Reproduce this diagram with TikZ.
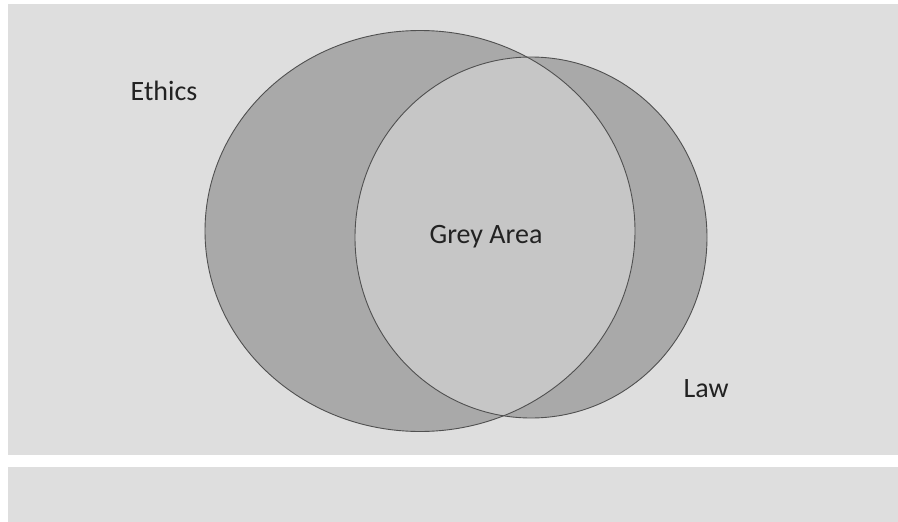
\documentclass[tikz,border=0pt]{standalone}
\usepackage{fontspec}
\setmainfont{Carlito}
\definecolor{panel}{HTML}{DEDEDE}
\definecolor{setfill}{HTML}{A9A9A9}
\definecolor{overlap}{HTML}{C6C6C6}
\definecolor{rim}{HTML}{505050}
\definecolor{ink}{HTML}{222222}
\tikzset{
  label text/.style={text=ink, font=\fontsize{28}{32}\selectfont, anchor=base, inner sep=0pt},
  set rim/.style={draw=rim, line width=0.9pt}
}
\begin{document}
\begin{tikzpicture}[x=1pt,y=-1pt]
  \useasboundingbox (0,0) rectangle (898,522);
  \fill[white] (0,0) rectangle (898,522);
  % panels
  \fill[panel] (8,4) rectangle (898,455);
  \fill[panel] (8,467) rectangle (898,522);
  % the two sets
  \fill[setfill] (420,231) ellipse [x radius=215, y radius=200.5];
  \fill[setfill] (531,237.5) ellipse [x radius=176, y radius=180.5];
  \begin{scope}
    \clip (420,231) ellipse [x radius=215, y radius=200.5];
    \fill[overlap] (531,237.5) ellipse [x radius=176, y radius=180.5];
  \end{scope}
  \draw[set rim] (420,231) ellipse [x radius=215, y radius=200.5];
  \draw[set rim] (531,237.5) ellipse [x radius=176, y radius=180.5];
  % labels
  \node[label text] (ethics) at (164,100) {Ethics};
  \node[label text] (grey) at (486,243) {Grey Area};
  \node[label text] (law) at (706,397) {Law};
\end{tikzpicture}
\end{document}
